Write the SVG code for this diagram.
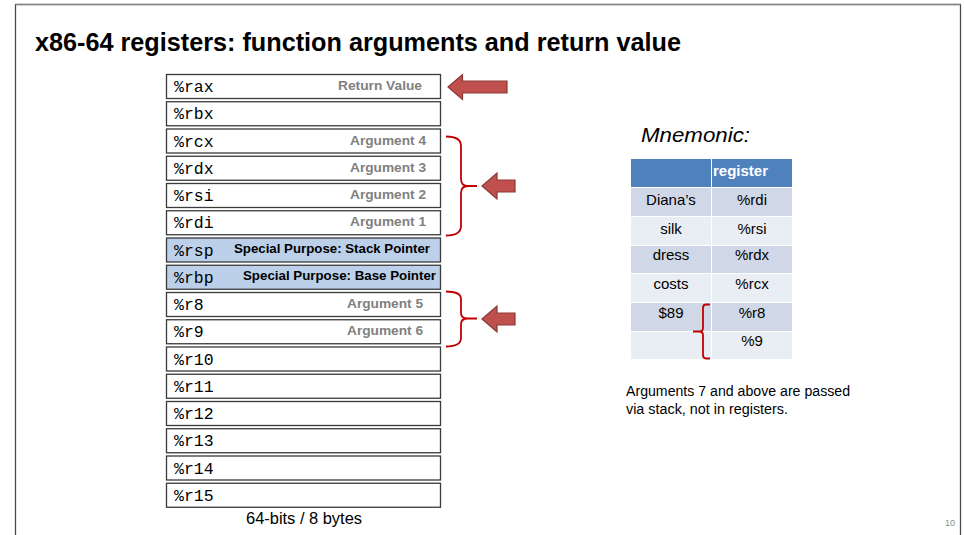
<svg xmlns="http://www.w3.org/2000/svg" width="964" height="535" viewBox="0 0 964 535">
  <style>
    .reg { fill: #ffffff; stroke: #3a3a3a; stroke-width: 1.3; }
    .special { fill: #bcd0e9; stroke: #3a3a3a; stroke-width: 1.3; }
    .rname { font-family: "Liberation Mono", "DejaVu Sans Mono", monospace; font-size: 16.5px; fill: #000; }
    .role { font-family: "Liberation Sans", Arial, sans-serif; font-size: 12.5px; font-weight: bold; fill: #808080; text-anchor: end; }
    .roleDark { font-family: "Liberation Sans", Arial, sans-serif; font-size: 12.5px; font-weight: bold; fill: #000; text-anchor: end; }
    .brace { fill: none; stroke: #c00000; stroke-width: 1.8; stroke-linejoin: round; }
    .arrow { fill: #c0504d; stroke: #8c3836; stroke-width: 1.2; }
    .body { font-family: "Liberation Sans", Arial, sans-serif; fill: #000; }
    .cell { font-family: "Liberation Sans", Arial, sans-serif; font-size: 15px; fill: #000; text-anchor: middle; }
  </style>

  <!-- slide frame -->
  <rect x="15.5" y="4.5" width="945" height="540" fill="#ffffff" stroke="#4a4a4a" stroke-width="1.3"/>
  <line x1="15.5" y1="4.5" x2="960.5" y2="4.5" stroke="#8a8a8a" stroke-width="1.3"/>

  <text id="title" class="body" x="35" y="51" font-size="25" font-weight="bold" textLength="646" lengthAdjust="spacingAndGlyphs">x86-64 registers: function arguments and return value</text>

  <!-- register file -->
  <g id="rax"><rect class="reg" x="166.5" y="74.5" width="274" height="24"/><text class="rname" x="174" y="92">%rax</text><text class="role" x="422" y="90" textLength="84" lengthAdjust="spacingAndGlyphs">Return Value</text></g>
  <g id="rbx"><rect class="reg" x="166.5" y="101.75" width="274" height="24"/><text class="rname" x="174" y="119.25">%rbx</text></g>
  <g id="rcx"><rect class="reg" x="166.5" y="129" width="274" height="24"/><text class="rname" x="174" y="146.5">%rcx</text><text class="role" x="426" y="144.5" textLength="76" lengthAdjust="spacingAndGlyphs">Argument 4</text></g>
  <g id="rdx"><rect class="reg" x="166.5" y="156.25" width="274" height="24"/><text class="rname" x="174" y="173.75">%rdx</text><text class="role" x="426" y="171.75" textLength="76" lengthAdjust="spacingAndGlyphs">Argument 3</text></g>
  <g id="rsi"><rect class="reg" x="166.5" y="183.5" width="274" height="24"/><text class="rname" x="174" y="201">%rsi</text><text class="role" x="426" y="199" textLength="76" lengthAdjust="spacingAndGlyphs">Argument 2</text></g>
  <g id="rdi"><rect class="reg" x="166.5" y="210.75" width="274" height="24"/><text class="rname" x="174" y="228.25">%rdi</text><text class="role" x="426" y="226.25" textLength="76" lengthAdjust="spacingAndGlyphs">Argument 1</text></g>
  <g id="rsp"><rect class="special" x="166.5" y="238" width="274" height="24"/><text class="rname" x="174" y="255.5">%rsp</text><text class="roleDark" x="430" y="253" textLength="196" lengthAdjust="spacingAndGlyphs">Special Purpose: Stack Pointer</text></g>
  <g id="rbp"><rect class="special" x="166.5" y="265.25" width="274" height="24"/><text class="rname" x="174" y="282.75">%rbp</text><text class="roleDark" x="436" y="280.25" textLength="193" lengthAdjust="spacingAndGlyphs">Special Purpose: Base Pointer</text></g>
  <g id="r8"><rect class="reg" x="166.5" y="292.5" width="274" height="24"/><text class="rname" x="174" y="310">%r8</text><text class="role" x="423" y="308" textLength="76" lengthAdjust="spacingAndGlyphs">Argument 5</text></g>
  <g id="r9"><rect class="reg" x="166.5" y="319.75" width="274" height="24"/><text class="rname" x="174" y="337.25">%r9</text><text class="role" x="423" y="335.25" textLength="76" lengthAdjust="spacingAndGlyphs">Argument 6</text></g>
  <g id="r10"><rect class="reg" x="166.5" y="347" width="274" height="24"/><text class="rname" x="174" y="364.5">%r10</text></g>
  <g id="r11"><rect class="reg" x="166.5" y="374.25" width="274" height="24"/><text class="rname" x="174" y="391.75">%r11</text></g>
  <g id="r12"><rect class="reg" x="166.5" y="401.5" width="274" height="24"/><text class="rname" x="174" y="419">%r12</text></g>
  <g id="r13"><rect class="reg" x="166.5" y="428.75" width="274" height="24"/><text class="rname" x="174" y="446.25">%r13</text></g>
  <g id="r14"><rect class="reg" x="166.5" y="456" width="274" height="24"/><text class="rname" x="174" y="473.5">%r14</text></g>
  <g id="r15"><rect class="reg" x="166.5" y="483.25" width="274" height="24"/><text class="rname" x="174" y="500.75">%r15</text></g>

  <text id="width-note" class="body" x="304" y="524" font-size="16" text-anchor="middle" textLength="116" lengthAdjust="spacingAndGlyphs">64-bits / 8 bytes</text>

  <!-- braces and pointing arrows -->
  <g id="connectors">
    <path class="brace" d="M446,136.5 Q461,136.5 461,146 V179 Q461,186 468,186 H477 M468,186 Q461,186 461,193 V226 Q461,235.5 446,235.5"/>
    <path class="brace" d="M446,291.5 Q461,291.5 461,299 V313 Q461,318.5 468,318.5 H477 M468,318.5 Q461,318.5 461,324 V338 Q461,346.5 446,346.5"/>
    <path class="arrow" d="M448,87 L462.5,74.5 V81 H507 V93 H462.5 V99.5 Z"/>
    <path class="arrow" d="M482,186 L497,173 V180 H515 V192 H497 V199 Z"/>
    <path class="arrow" d="M482,319 L497,306 V313 H515 V325 H497 V332 Z"/>
  </g>

  <!-- mnemonic table -->
  <text id="mnemonic" class="body" x="641" y="142" font-size="21" font-style="italic" textLength="109" lengthAdjust="spacingAndGlyphs">Mnemonic:</text>
  <g id="mnemonic-table">
    <rect x="631" y="159" width="80" height="28" fill="#4f81bd"/>
    <rect x="712" y="159" width="80" height="28" fill="#4f81bd"/>
    <rect x="631" y="188" width="80" height="28" fill="#d0d8e8"/>
    <rect x="712" y="188" width="80" height="28" fill="#d0d8e8"/>
    <rect x="631" y="217" width="80" height="28" fill="#e9edf4"/>
    <rect x="712" y="217" width="80" height="28" fill="#e9edf4"/>
    <rect x="631" y="246" width="80" height="27" fill="#d0d8e8"/>
    <rect x="712" y="246" width="80" height="27" fill="#d0d8e8"/>
    <rect x="631" y="274" width="80" height="28" fill="#e9edf4"/>
    <rect x="712" y="274" width="80" height="28" fill="#e9edf4"/>
    <rect x="631" y="303" width="80" height="28" fill="#d0d8e8"/>
    <rect x="712" y="303" width="80" height="28" fill="#d0d8e8"/>
    <rect x="631" y="332" width="80" height="27" fill="#e9edf4"/>
    <rect x="712" y="332" width="80" height="27" fill="#e9edf4"/>
    <text x="713" y="176" font-family="Liberation Sans, Arial, sans-serif" font-size="15" font-weight="bold" fill="#ffffff">register</text>
    <text class="cell" x="671" y="205">Diana’s</text>
    <text class="cell" x="752" y="205">%rdi</text>
    <text class="cell" x="671" y="234">silk</text>
    <text class="cell" x="752" y="234">%rsi</text>
    <text class="cell" x="671" y="260">dress</text>
    <text class="cell" x="752" y="260">%rdx</text>
    <text class="cell" x="671" y="289">costs</text>
    <text class="cell" x="752" y="289">%rcx</text>
    <text class="cell" x="671" y="318">$89</text>
    <text class="cell" x="752" y="318">%r8</text>
    <text class="cell" x="752" y="346">%9</text>
    <path class="brace" d="M710,304.5 H706 Q703,304.5 703,308 V328 Q703,331.5 699,331.5 H693 M699,331.5 Q703,331.5 703,335 V355 Q703,358.5 706,358.5 H710"/>
  </g>

  <g id="stack-note" class="body" font-size="14">
    <text x="626" y="396" textLength="224" lengthAdjust="spacingAndGlyphs">Arguments 7 and above are passed</text>
    <text x="626" y="414" textLength="162" lengthAdjust="spacingAndGlyphs">via stack, not in registers.</text>
  </g>

  <text id="page-number" x="945" y="526" font-family="Liberation Sans, Arial, sans-serif" font-size="9" fill="#8a8a8a">10</text>
</svg>
